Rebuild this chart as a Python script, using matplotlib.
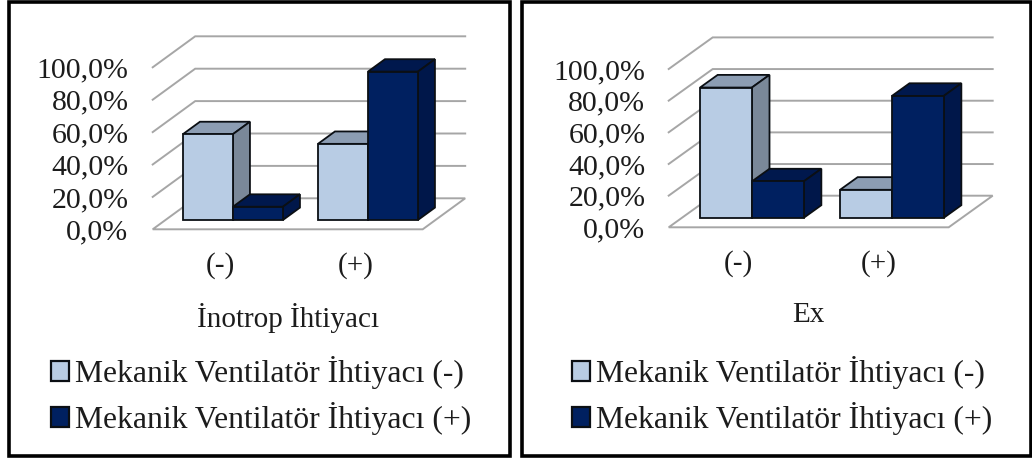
import matplotlib
matplotlib.use("Agg")
import matplotlib.pyplot as plt
from matplotlib.patches import Rectangle, Patch

W, H = 1032, 458
plt.rcParams['font.family'] = ['Liberation Serif', 'DejaVu Serif']

categories = ['(-)', '(+)']
series_names = ['Mekanik Ventilatör İhtiyacı (-)', 'Mekanik Ventilatör İhtiyacı (+)']
ytick_values = [0, 20, 40, 60, 80, 100]
ytick_labels = ['0,0%', '20,0%', '40,0%', '60,0%', '80,0%', '100,0%']

inotrop_neg = [53.0, 47.0]
inotrop_pos = [8.2, 91.6]
ex_neg = [82.3, 17.7]
ex_pos = [23.0, 77.0]

titles = ['İnotrop İhtiyacı', 'Ex']

LIGHT = dict(front='#B8CCE4', top='#8C9DB3', side='#7A8899')
DARK = dict(front='#002060', top='#00184D', side='#00174A')
EDGE = '#0B0F14'
GRID = '#A6A6A6'
TEXT = '#1C1C1C'
FS_TICK = 21.5
FS_CAT = 21
FS_TITLE = 21
FS_LEG = 22.8

fig = plt.figure(figsize=(W / 100, H / 100), dpi=100)


def px_axes(left, right, top, bottom):
    return fig.add_axes([left / W, 1 - bottom / H, (right - left) / W, (bottom - top) / H])


def panel(box, neg, pos, title, depth_px, pad_y, pad_x, labelpad, legend_xy):
    left, right, top, bottom = box
    ax = px_axes(left, right, top, bottom)
    ax.set_xlim(-0.5, 1.5)
    ax.set_ylim(0, 100)
    ax.patch.set_visible(False)
    for s in ax.spines.values():
        s.set_visible(False)
    ux = (right - left) / 2
    uy = (bottom - top) / 100
    dx = depth_px[0] / ux
    dy = depth_px[1] / uy

    # floor and walls
    ax.fill([-0.5, 1.5, 1.5 + dx, -0.5 + dx], [0, 0, dy, dy], facecolor='white',
            edgecolor=GRID, lw=1.4, clip_on=False, zorder=1)
    for v in ytick_values[1:]:
        ax.plot([-0.5, -0.5 + dx, 1.5 + dx], [v, v + dy, v + dy], color=GRID, lw=1.4,
                clip_on=False, zorder=1, solid_joinstyle='miter')

    # 3-D bars, drawn with the library's data scales
    w = 50 / 135
    t0, t1 = 0.3, 0.7
    z = 2
    for i in range(len(categories)):
        for j, (vals, col) in enumerate(((neg, LIGHT), (pos, DARK))):
            x0 = i - w + j * w + t0 * dx
            x1 = x0 + w
            y0 = t0 * dy
            y1 = y0 + vals[i]
            ddx = (t1 - t0) * dx
            ddy = (t1 - t0) * dy
            kw = dict(edgecolor=EDGE, lw=1.3, clip_on=False, zorder=z, joinstyle='miter')
            ax.fill([x0, x1, x1 + ddx, x0 + ddx], [y1, y1, y1 + ddy, y1 + ddy], facecolor=col['top'], **kw)
            ax.fill([x1, x1 + ddx, x1 + ddx, x1], [y0, y0 + ddy, y1 + ddy, y1], facecolor=col['side'], **kw)
            ax.fill([x0, x1, x1, x0], [y0, y0, y1, y1], facecolor=col['front'], **kw)
            z += 1

    ax.set_yticks(ytick_values, ytick_labels)
    ax.set_xticks(range(len(categories)), categories)
    ax.tick_params(axis='y', length=0, pad=pad_y, labelsize=FS_TICK, labelcolor=TEXT)
    ax.tick_params(axis='x', length=0, pad=pad_x, labelsize=FS_CAT, labelcolor=TEXT)
    ax.set_xlabel(title, fontsize=FS_TITLE, color=TEXT, labelpad=labelpad)

    handles = [Patch(facecolor=LIGHT['front'], edgecolor=EDGE, lw=1.6),
               Patch(facecolor=DARK['front'], edgecolor=EDGE, lw=1.6)]
    ax.legend(handles, series_names, loc='upper left',
              bbox_to_anchor=(legend_xy[0] / W, 1 - legend_xy[1] / H),
              bbox_transform=fig.transFigure, frameon=False, fontsize=FS_LEG,
              borderpad=0, borderaxespad=0, handlelength=0.57, handleheight=0.57,
              handletextpad=0.2, labelspacing=0.42, labelcolor=TEXT)


panel((152.7, 422.7, 67.3, 229.3), inotrop_neg, inotrop_pos, titles[0], (42.5, 31), 17.5, 16.5, 17, (51, 356))
panel((668.7, 948.7, 69.0, 227.3), ex_neg, ex_pos, titles[1], (44, 31.6), 16.8, 16.5, 18, (572, 356))

# panel frames
for (x0, y0, x1, y1) in [(8.5, 1.5, 510, 456), (521.5, 1.5, 1030.5, 456)]:
    fig.add_artist(Rectangle((x0 / W, 1 - y1 / H), (x1 - x0) / W, (y1 - y0) / H,
                             transform=fig.transFigure, fill=False, edgecolor='black', lw=2.6,
                             joinstyle='miter'))

fig.savefig('out.png', dpi=100)
